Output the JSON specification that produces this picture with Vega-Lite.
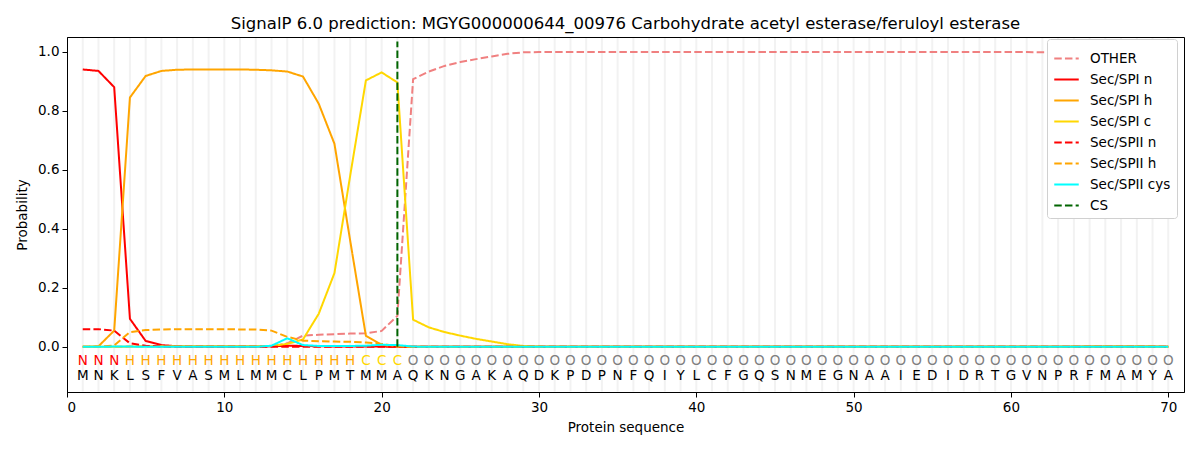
{
  "$schema": "https://vega.github.io/schema/vega-lite/v6.json",
  "width": 1117,
  "height": 355,
  "autosize": {"type": "none"},
  "padding": {"left": 67, "top": 37, "right": 16, "bottom": 58},
  "title": {
    "text": "SignalP 6.0 prediction: MGYG000000644_00976 Carbohydrate acetyl esterase/feruloyl esterase",
    "font": "DejaVu Sans",
    "fontSize": 16.5,
    "fontWeight": "normal",
    "color": "black",
    "offset": 4
  },
  "data": {
    "values": [
      {"pos": 1, "aa": "M", "lab": "N", "OTHER": 0.0, "Sec/SPI n": 0.94, "Sec/SPI h": 0.0, "Sec/SPI c": 0.0, "Sec/SPII n": 0.06, "Sec/SPII h": 0.0, "Sec/SPII cys": 0.0},
      {"pos": 2, "aa": "N", "lab": "N", "OTHER": 0.0, "Sec/SPI n": 0.935, "Sec/SPI h": 0.002, "Sec/SPI c": 0.0, "Sec/SPII n": 0.06, "Sec/SPII h": 0.0, "Sec/SPII cys": 0.0},
      {"pos": 3, "aa": "K", "lab": "N", "OTHER": 0.0, "Sec/SPI n": 0.88, "Sec/SPI h": 0.055, "Sec/SPI c": 0.0, "Sec/SPII n": 0.055, "Sec/SPII h": 0.005, "Sec/SPII cys": 0.001},
      {"pos": 4, "aa": "L", "lab": "H", "OTHER": 0.001, "Sec/SPI n": 0.095, "Sec/SPI h": 0.845, "Sec/SPI c": 0.001, "Sec/SPII n": 0.012, "Sec/SPII h": 0.05, "Sec/SPII cys": 0.001},
      {"pos": 5, "aa": "S", "lab": "H", "OTHER": 0.001, "Sec/SPI n": 0.02, "Sec/SPI h": 0.918, "Sec/SPI c": 0.002, "Sec/SPII n": 0.004, "Sec/SPII h": 0.057, "Sec/SPII cys": 0.0},
      {"pos": 6, "aa": "F", "lab": "H", "OTHER": 0.001, "Sec/SPI n": 0.006, "Sec/SPI h": 0.935, "Sec/SPI c": 0.002, "Sec/SPII n": 0.001, "Sec/SPII h": 0.059, "Sec/SPII cys": 0.0},
      {"pos": 7, "aa": "V", "lab": "H", "OTHER": 0.0, "Sec/SPI n": 0.002, "Sec/SPI h": 0.939, "Sec/SPI c": 0.002, "Sec/SPII n": 0.0, "Sec/SPII h": 0.06, "Sec/SPII cys": 0.0},
      {"pos": 8, "aa": "A", "lab": "H", "OTHER": 0.0, "Sec/SPI n": 0.001, "Sec/SPI h": 0.94, "Sec/SPI c": 0.002, "Sec/SPII n": 0.0, "Sec/SPII h": 0.06, "Sec/SPII cys": 0.0},
      {"pos": 9, "aa": "S", "lab": "H", "OTHER": 0.0, "Sec/SPI n": 0.001, "Sec/SPI h": 0.94, "Sec/SPI c": 0.002, "Sec/SPII n": 0.0, "Sec/SPII h": 0.06, "Sec/SPII cys": 0.0},
      {"pos": 10, "aa": "M", "lab": "H", "OTHER": 0.0, "Sec/SPI n": 0.001, "Sec/SPI h": 0.94, "Sec/SPI c": 0.002, "Sec/SPII n": 0.0, "Sec/SPII h": 0.06, "Sec/SPII cys": 0.0},
      {"pos": 11, "aa": "L", "lab": "H", "OTHER": 0.0, "Sec/SPI n": 0.001, "Sec/SPI h": 0.94, "Sec/SPI c": 0.002, "Sec/SPII n": 0.0, "Sec/SPII h": 0.059, "Sec/SPII cys": 0.0},
      {"pos": 12, "aa": "M", "lab": "H", "OTHER": 0.0, "Sec/SPI n": 0.001, "Sec/SPI h": 0.939, "Sec/SPI c": 0.002, "Sec/SPII n": 0.0, "Sec/SPII h": 0.059, "Sec/SPII cys": 0.0},
      {"pos": 13, "aa": "M", "lab": "H", "OTHER": 0.002, "Sec/SPI n": 0.002, "Sec/SPI h": 0.937, "Sec/SPI c": 0.003, "Sec/SPII n": 0.0, "Sec/SPII h": 0.055, "Sec/SPII cys": 0.004},
      {"pos": 14, "aa": "C", "lab": "H", "OTHER": 0.012, "Sec/SPI n": 0.004, "Sec/SPI h": 0.933, "Sec/SPI c": 0.01, "Sec/SPII n": 0.0, "Sec/SPII h": 0.034, "Sec/SPII cys": 0.029},
      {"pos": 15, "aa": "L", "lab": "H", "OTHER": 0.038, "Sec/SPI n": 0.003, "Sec/SPI h": 0.916, "Sec/SPI c": 0.025, "Sec/SPII n": 0.0, "Sec/SPII h": 0.021, "Sec/SPII cys": 0.006},
      {"pos": 16, "aa": "P", "lab": "H", "OTHER": 0.041, "Sec/SPI n": 0.002, "Sec/SPI h": 0.824, "Sec/SPI c": 0.112, "Sec/SPII n": 0.0, "Sec/SPII h": 0.019, "Sec/SPII cys": 0.003},
      {"pos": 17, "aa": "M", "lab": "H", "OTHER": 0.043, "Sec/SPI n": 0.001, "Sec/SPI h": 0.688, "Sec/SPI c": 0.25, "Sec/SPII n": 0.0, "Sec/SPII h": 0.018, "Sec/SPII cys": 0.003},
      {"pos": 18, "aa": "T", "lab": "H", "OTHER": 0.045, "Sec/SPI n": 0.001, "Sec/SPI h": 0.36, "Sec/SPI c": 0.58, "Sec/SPII n": 0.0, "Sec/SPII h": 0.017, "Sec/SPII cys": 0.003},
      {"pos": 19, "aa": "M", "lab": "C", "OTHER": 0.046, "Sec/SPI n": 0.001, "Sec/SPI h": 0.037, "Sec/SPI c": 0.903, "Sec/SPII n": 0.0, "Sec/SPII h": 0.015, "Sec/SPII cys": 0.004},
      {"pos": 20, "aa": "M", "lab": "C", "OTHER": 0.054, "Sec/SPI n": 0.001, "Sec/SPI h": 0.007, "Sec/SPI c": 0.93, "Sec/SPII n": 0.0, "Sec/SPII h": 0.01, "Sec/SPII cys": 0.007},
      {"pos": 21, "aa": "A", "lab": "C", "OTHER": 0.105, "Sec/SPI n": 0.0, "Sec/SPI h": 0.001, "Sec/SPI c": 0.896, "Sec/SPII n": 0.0, "Sec/SPII h": 0.002, "Sec/SPII cys": 0.006},
      {"pos": 22, "aa": "Q", "lab": "O", "OTHER": 0.907, "Sec/SPI n": 0.0, "Sec/SPI h": 0.0, "Sec/SPI c": 0.092, "Sec/SPII n": 0.0, "Sec/SPII h": 0.0, "Sec/SPII cys": 0.001},
      {"pos": 23, "aa": "K", "lab": "O", "OTHER": 0.933, "Sec/SPI n": 0.0, "Sec/SPI h": 0.0, "Sec/SPI c": 0.066, "Sec/SPII n": 0.0, "Sec/SPII h": 0.0, "Sec/SPII cys": 0.0},
      {"pos": 24, "aa": "N", "lab": "O", "OTHER": 0.952, "Sec/SPI n": 0.0, "Sec/SPI h": 0.0, "Sec/SPI c": 0.05, "Sec/SPII n": 0.0, "Sec/SPII h": 0.0, "Sec/SPII cys": 0.0},
      {"pos": 25, "aa": "G", "lab": "O", "OTHER": 0.965, "Sec/SPI n": 0.0, "Sec/SPI h": 0.0, "Sec/SPI c": 0.038, "Sec/SPII n": 0.0, "Sec/SPII h": 0.0, "Sec/SPII cys": 0.0},
      {"pos": 26, "aa": "A", "lab": "O", "OTHER": 0.975, "Sec/SPI n": 0.0, "Sec/SPI h": 0.0, "Sec/SPI c": 0.027, "Sec/SPII n": 0.0, "Sec/SPII h": 0.0, "Sec/SPII cys": 0.0},
      {"pos": 27, "aa": "K", "lab": "O", "OTHER": 0.984, "Sec/SPI n": 0.0, "Sec/SPI h": 0.0, "Sec/SPI c": 0.018, "Sec/SPII n": 0.0, "Sec/SPII h": 0.0, "Sec/SPII cys": 0.0},
      {"pos": 28, "aa": "A", "lab": "O", "OTHER": 0.993, "Sec/SPI n": 0.0, "Sec/SPI h": 0.0, "Sec/SPI c": 0.009, "Sec/SPII n": 0.0, "Sec/SPII h": 0.0, "Sec/SPII cys": 0.0},
      {"pos": 29, "aa": "Q", "lab": "O", "OTHER": 0.998, "Sec/SPI n": 0.0, "Sec/SPI h": 0.0, "Sec/SPI c": 0.003, "Sec/SPII n": 0.0, "Sec/SPII h": 0.0, "Sec/SPII cys": 0.0},
      {"pos": 30, "aa": "D", "lab": "O", "OTHER": 0.999, "Sec/SPI n": 0.0, "Sec/SPI h": 0.0, "Sec/SPI c": 0.001, "Sec/SPII n": 0.0, "Sec/SPII h": 0.0, "Sec/SPII cys": 0.0},
      {"pos": 31, "aa": "K", "lab": "O", "OTHER": 0.999, "Sec/SPI n": 0.0, "Sec/SPI h": 0.0, "Sec/SPI c": 0.0, "Sec/SPII n": 0.0, "Sec/SPII h": 0.0, "Sec/SPII cys": 0.0},
      {"pos": 32, "aa": "P", "lab": "O", "OTHER": 0.999, "Sec/SPI n": 0.0, "Sec/SPI h": 0.0, "Sec/SPI c": 0.0, "Sec/SPII n": 0.0, "Sec/SPII h": 0.0, "Sec/SPII cys": 0.0},
      {"pos": 33, "aa": "D", "lab": "O", "OTHER": 0.999, "Sec/SPI n": 0.0, "Sec/SPI h": 0.0, "Sec/SPI c": 0.0, "Sec/SPII n": 0.0, "Sec/SPII h": 0.0, "Sec/SPII cys": 0.0},
      {"pos": 34, "aa": "P", "lab": "O", "OTHER": 0.999, "Sec/SPI n": 0.0, "Sec/SPI h": 0.0, "Sec/SPI c": 0.0, "Sec/SPII n": 0.0, "Sec/SPII h": 0.0, "Sec/SPII cys": 0.0},
      {"pos": 35, "aa": "N", "lab": "O", "OTHER": 0.999, "Sec/SPI n": 0.0, "Sec/SPI h": 0.0, "Sec/SPI c": 0.0, "Sec/SPII n": 0.0, "Sec/SPII h": 0.0, "Sec/SPII cys": 0.0},
      {"pos": 36, "aa": "F", "lab": "O", "OTHER": 0.999, "Sec/SPI n": 0.0, "Sec/SPI h": 0.0, "Sec/SPI c": 0.0, "Sec/SPII n": 0.0, "Sec/SPII h": 0.0, "Sec/SPII cys": 0.0},
      {"pos": 37, "aa": "Q", "lab": "O", "OTHER": 0.999, "Sec/SPI n": 0.0, "Sec/SPI h": 0.0, "Sec/SPI c": 0.0, "Sec/SPII n": 0.0, "Sec/SPII h": 0.0, "Sec/SPII cys": 0.0},
      {"pos": 38, "aa": "I", "lab": "O", "OTHER": 0.999, "Sec/SPI n": 0.0, "Sec/SPI h": 0.0, "Sec/SPI c": 0.0, "Sec/SPII n": 0.0, "Sec/SPII h": 0.0, "Sec/SPII cys": 0.0},
      {"pos": 39, "aa": "Y", "lab": "O", "OTHER": 0.999, "Sec/SPI n": 0.0, "Sec/SPI h": 0.0, "Sec/SPI c": 0.0, "Sec/SPII n": 0.0, "Sec/SPII h": 0.0, "Sec/SPII cys": 0.0},
      {"pos": 40, "aa": "L", "lab": "O", "OTHER": 0.999, "Sec/SPI n": 0.0, "Sec/SPI h": 0.0, "Sec/SPI c": 0.0, "Sec/SPII n": 0.0, "Sec/SPII h": 0.0, "Sec/SPII cys": 0.0},
      {"pos": 41, "aa": "C", "lab": "O", "OTHER": 0.999, "Sec/SPI n": 0.0, "Sec/SPI h": 0.0, "Sec/SPI c": 0.0, "Sec/SPII n": 0.0, "Sec/SPII h": 0.0, "Sec/SPII cys": 0.0},
      {"pos": 42, "aa": "F", "lab": "O", "OTHER": 0.999, "Sec/SPI n": 0.0, "Sec/SPI h": 0.0, "Sec/SPI c": 0.0, "Sec/SPII n": 0.0, "Sec/SPII h": 0.0, "Sec/SPII cys": 0.0},
      {"pos": 43, "aa": "G", "lab": "O", "OTHER": 0.999, "Sec/SPI n": 0.0, "Sec/SPI h": 0.0, "Sec/SPI c": 0.0, "Sec/SPII n": 0.0, "Sec/SPII h": 0.0, "Sec/SPII cys": 0.0},
      {"pos": 44, "aa": "Q", "lab": "O", "OTHER": 0.999, "Sec/SPI n": 0.0, "Sec/SPI h": 0.0, "Sec/SPI c": 0.0, "Sec/SPII n": 0.0, "Sec/SPII h": 0.0, "Sec/SPII cys": 0.0},
      {"pos": 45, "aa": "S", "lab": "O", "OTHER": 0.999, "Sec/SPI n": 0.0, "Sec/SPI h": 0.0, "Sec/SPI c": 0.0, "Sec/SPII n": 0.0, "Sec/SPII h": 0.0, "Sec/SPII cys": 0.0},
      {"pos": 46, "aa": "N", "lab": "O", "OTHER": 0.999, "Sec/SPI n": 0.0, "Sec/SPI h": 0.0, "Sec/SPI c": 0.0, "Sec/SPII n": 0.0, "Sec/SPII h": 0.0, "Sec/SPII cys": 0.0},
      {"pos": 47, "aa": "M", "lab": "O", "OTHER": 0.999, "Sec/SPI n": 0.0, "Sec/SPI h": 0.0, "Sec/SPI c": 0.0, "Sec/SPII n": 0.0, "Sec/SPII h": 0.0, "Sec/SPII cys": 0.0},
      {"pos": 48, "aa": "E", "lab": "O", "OTHER": 0.999, "Sec/SPI n": 0.0, "Sec/SPI h": 0.0, "Sec/SPI c": 0.0, "Sec/SPII n": 0.0, "Sec/SPII h": 0.0, "Sec/SPII cys": 0.0},
      {"pos": 49, "aa": "G", "lab": "O", "OTHER": 0.999, "Sec/SPI n": 0.0, "Sec/SPI h": 0.0, "Sec/SPI c": 0.0, "Sec/SPII n": 0.0, "Sec/SPII h": 0.0, "Sec/SPII cys": 0.0},
      {"pos": 50, "aa": "N", "lab": "O", "OTHER": 0.999, "Sec/SPI n": 0.0, "Sec/SPI h": 0.0, "Sec/SPI c": 0.0, "Sec/SPII n": 0.0, "Sec/SPII h": 0.0, "Sec/SPII cys": 0.0},
      {"pos": 51, "aa": "A", "lab": "O", "OTHER": 0.999, "Sec/SPI n": 0.0, "Sec/SPI h": 0.0, "Sec/SPI c": 0.0, "Sec/SPII n": 0.0, "Sec/SPII h": 0.0, "Sec/SPII cys": 0.0},
      {"pos": 52, "aa": "A", "lab": "O", "OTHER": 0.999, "Sec/SPI n": 0.0, "Sec/SPI h": 0.0, "Sec/SPI c": 0.0, "Sec/SPII n": 0.0, "Sec/SPII h": 0.0, "Sec/SPII cys": 0.0},
      {"pos": 53, "aa": "I", "lab": "O", "OTHER": 0.999, "Sec/SPI n": 0.0, "Sec/SPI h": 0.0, "Sec/SPI c": 0.0, "Sec/SPII n": 0.0, "Sec/SPII h": 0.0, "Sec/SPII cys": 0.0},
      {"pos": 54, "aa": "E", "lab": "O", "OTHER": 0.999, "Sec/SPI n": 0.0, "Sec/SPI h": 0.0, "Sec/SPI c": 0.0, "Sec/SPII n": 0.0, "Sec/SPII h": 0.0, "Sec/SPII cys": 0.0},
      {"pos": 55, "aa": "D", "lab": "O", "OTHER": 0.999, "Sec/SPI n": 0.0, "Sec/SPI h": 0.0, "Sec/SPI c": 0.0, "Sec/SPII n": 0.0, "Sec/SPII h": 0.0, "Sec/SPII cys": 0.0},
      {"pos": 56, "aa": "I", "lab": "O", "OTHER": 0.999, "Sec/SPI n": 0.0, "Sec/SPI h": 0.0, "Sec/SPI c": 0.0, "Sec/SPII n": 0.0, "Sec/SPII h": 0.0, "Sec/SPII cys": 0.0},
      {"pos": 57, "aa": "D", "lab": "O", "OTHER": 0.999, "Sec/SPI n": 0.0, "Sec/SPI h": 0.0, "Sec/SPI c": 0.0, "Sec/SPII n": 0.0, "Sec/SPII h": 0.0, "Sec/SPII cys": 0.0},
      {"pos": 58, "aa": "R", "lab": "O", "OTHER": 0.999, "Sec/SPI n": 0.0, "Sec/SPI h": 0.0, "Sec/SPI c": 0.0, "Sec/SPII n": 0.0, "Sec/SPII h": 0.0, "Sec/SPII cys": 0.0},
      {"pos": 59, "aa": "T", "lab": "O", "OTHER": 0.999, "Sec/SPI n": 0.0, "Sec/SPI h": 0.0, "Sec/SPI c": 0.0, "Sec/SPII n": 0.0, "Sec/SPII h": 0.0, "Sec/SPII cys": 0.0},
      {"pos": 60, "aa": "G", "lab": "O", "OTHER": 0.999, "Sec/SPI n": 0.0, "Sec/SPI h": 0.0, "Sec/SPI c": 0.0, "Sec/SPII n": 0.0, "Sec/SPII h": 0.0, "Sec/SPII cys": 0.0},
      {"pos": 61, "aa": "V", "lab": "O", "OTHER": 0.999, "Sec/SPI n": 0.0, "Sec/SPI h": 0.0, "Sec/SPI c": 0.0, "Sec/SPII n": 0.0, "Sec/SPII h": 0.0, "Sec/SPII cys": 0.0},
      {"pos": 62, "aa": "N", "lab": "O", "OTHER": 0.998, "Sec/SPI n": 0.0, "Sec/SPI h": 0.0, "Sec/SPI c": 0.0, "Sec/SPII n": 0.0, "Sec/SPII h": 0.0, "Sec/SPII cys": 0.0},
      {"pos": 63, "aa": "P", "lab": "O", "OTHER": 0.998, "Sec/SPI n": 0.0, "Sec/SPI h": 0.0, "Sec/SPI c": 0.0, "Sec/SPII n": 0.0, "Sec/SPII h": 0.0, "Sec/SPII cys": 0.0},
      {"pos": 64, "aa": "R", "lab": "O", "OTHER": 0.998, "Sec/SPI n": 0.0, "Sec/SPI h": 0.0, "Sec/SPI c": 0.0, "Sec/SPII n": 0.0, "Sec/SPII h": 0.001, "Sec/SPII cys": 0.0},
      {"pos": 65, "aa": "F", "lab": "O", "OTHER": 0.998, "Sec/SPI n": 0.0, "Sec/SPI h": 0.001, "Sec/SPI c": 0.0, "Sec/SPII n": 0.0, "Sec/SPII h": 0.001, "Sec/SPII cys": 0.0},
      {"pos": 66, "aa": "M", "lab": "O", "OTHER": 0.998, "Sec/SPI n": 0.0, "Sec/SPI h": 0.001, "Sec/SPI c": 0.0, "Sec/SPII n": 0.0, "Sec/SPII h": 0.001, "Sec/SPII cys": 0.0},
      {"pos": 67, "aa": "A", "lab": "O", "OTHER": 0.998, "Sec/SPI n": 0.0, "Sec/SPI h": 0.001, "Sec/SPI c": 0.0, "Sec/SPII n": 0.0, "Sec/SPII h": 0.001, "Sec/SPII cys": 0.0},
      {"pos": 68, "aa": "M", "lab": "O", "OTHER": 0.998, "Sec/SPI n": 0.0, "Sec/SPI h": 0.001, "Sec/SPI c": 0.0, "Sec/SPII n": 0.0, "Sec/SPII h": 0.001, "Sec/SPII cys": 0.0},
      {"pos": 69, "aa": "Y", "lab": "O", "OTHER": 0.998, "Sec/SPI n": 0.0, "Sec/SPI h": 0.001, "Sec/SPI c": 0.0, "Sec/SPII n": 0.0, "Sec/SPII h": 0.001, "Sec/SPII cys": 0.0},
      {"pos": 70, "aa": "A", "lab": "O", "OTHER": 0.999, "Sec/SPI n": 0.0, "Sec/SPI h": 0.0, "Sec/SPI c": 0.0, "Sec/SPII n": 0.0, "Sec/SPII h": 0.0, "Sec/SPII cys": 0.0}
    ]
  },
  "layer": [
    {
      "mark": {"type": "rule", "color": "#f2f2f2", "strokeWidth": 2},
      "encoding": {
        "x": {"field": "pos", "type": "quantitative"},
        "y": {"datum": -0.151, "type": "quantitative"},
        "y2": {"datum": 1.047}
      }
    },
    {
      "layer": [
        {
          "transform": [
            {"fold": ["OTHER", "Sec/SPI n", "Sec/SPI h", "Sec/SPI c", "Sec/SPII n", "Sec/SPII h", "Sec/SPII cys"], "as": ["series", "p"]}
          ],
          "mark": {"type": "line", "strokeWidth": 2},
          "encoding": {
            "x": {
              "field": "pos",
              "type": "quantitative",
              "scale": {"domain": [0, 71], "nice": false, "zero": false},
              "axis": {"values": [0, 10, 20, 30, 40, 50, 60, 70], "title": "Protein sequence", "grid": false}
            },
            "y": {
              "field": "p",
              "type": "quantitative",
              "scale": {"domain": [-0.153, 1.05], "nice": false, "zero": false},
              "axis": {"values": [0, 0.2, 0.4, 0.6, 0.8, 1.0], "format": ".1f", "title": "Probability", "grid": false}
            },
            "color": {
              "field": "series",
              "type": "nominal",
              "scale": {
                "domain": ["OTHER", "Sec/SPI n", "Sec/SPI h", "Sec/SPI c", "Sec/SPII n", "Sec/SPII h", "Sec/SPII cys", "CS"],
                "range": ["#f08080", "#ff0000", "#ffa500", "#ffd700", "#ff0000", "#ffa500", "#00ffff", "#006400"]
              },
              "legend": {"title": null}
            },
            "strokeDash": {
              "field": "series",
              "type": "nominal",
              "scale": {
                "domain": ["OTHER", "Sec/SPI n", "Sec/SPI h", "Sec/SPI c", "Sec/SPII n", "Sec/SPII h", "Sec/SPII cys", "CS"],
                "range": [[7.5, 3.2], [1, 0], [1, 0], [1, 0], [7.5, 3.2], [7.5, 3.2], [1, 0], [7.5, 3.2]]
              },
              "legend": {"title": null}
            }
          }
        },
        {
          "data": {"values": [{"pos": 21, "series": "CS"}]},
          "mark": {"type": "rule", "strokeWidth": 2},
          "encoding": {
            "x": {"field": "pos", "type": "quantitative"},
            "y": {"datum": 0, "type": "quantitative"},
            "y2": {"datum": 1.035},
            "color": {"field": "series", "type": "nominal"},
            "strokeDash": {"field": "series", "type": "nominal"}
          }
        }
      ]
    },
    {
      "mark": {"type": "text", "font": "DejaVu Sans", "fontSize": 13.5, "baseline": "middle", "align": "center"},
      "encoding": {
        "x": {"field": "pos", "type": "quantitative"},
        "y": {"datum": -0.047, "type": "quantitative"},
        "text": {"field": "lab"},
        "color": {
          "condition": [
            {"test": "datum.lab === 'N'", "value": "#ff0000"},
            {"test": "datum.lab === 'H'", "value": "#ffa500"},
            {"test": "datum.lab === 'C'", "value": "#ffd700"}
          ],
          "value": "#808080"
        }
      }
    },
    {
      "mark": {"type": "text", "font": "DejaVu Sans", "fontSize": 13.5, "baseline": "middle", "align": "center", "color": "black"},
      "encoding": {
        "x": {"field": "pos", "type": "quantitative"},
        "y": {"datum": -0.1, "type": "quantitative"},
        "text": {"field": "aa"}
      }
    }
  ],
  "config": {
    "view": {"stroke": "black", "strokeWidth": 1},
    "axis": {
      "labelFont": "DejaVu Sans",
      "labelFontSize": 13.5,
      "labelColor": "black",
      "titleFont": "DejaVu Sans",
      "titleFontSize": 13.5,
      "titleFontWeight": "normal",
      "titleColor": "black",
      "domainColor": "black",
      "tickColor": "black",
      "tickSize": 5,
      "labelPadding": 3
    },
    "axisX": {"titlePadding": 7},
    "axisY": {"titlePadding": 8},
    "legend": {
      "orient": "none",
      "legendX": 980,
      "legendY": 2,
      "symbolType": "stroke",
      "symbolSize": 600,
      "symbolStrokeWidth": 2,
      "labelFont": "DejaVu Sans",
      "labelFontSize": 13.5,
      "labelColor": "black",
      "labelOffset": 10,
      "rowPadding": 1,
      "padding": 6,
      "fillColor": "white",
      "strokeColor": "#d0d0d0",
      "cornerRadius": 3
    }
  }
}
